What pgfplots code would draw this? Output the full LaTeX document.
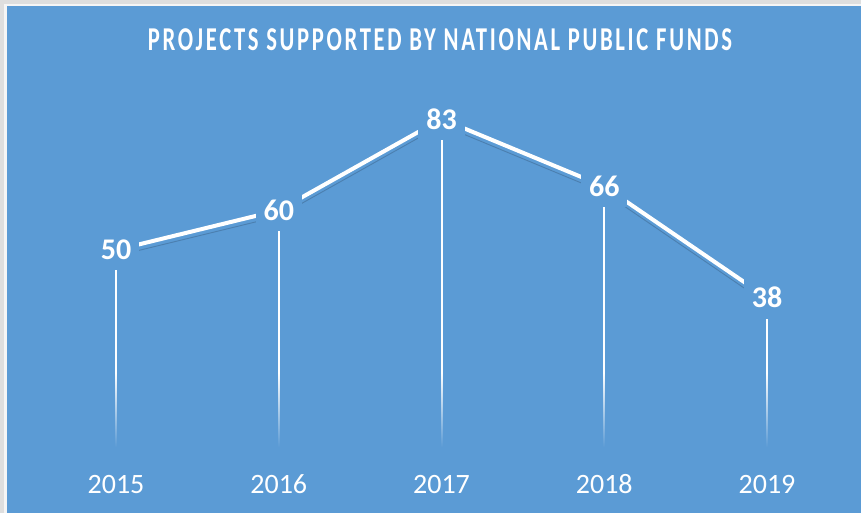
\documentclass[border=0pt]{standalone}
\usepackage{pgfplots}
\pgfplotsset{compat=1.18}
\usepackage{fontspec}
\setmainfont{Carlito}
\newfontfamily\titlefont[FakeStretch=0.68, LetterSpace=8]{Carlito}
\usetikzlibrary{fadings}
\definecolor{bg}{RGB}{91,155,213}
\definecolor{framegray}{RGB}{222,222,222}
\tikzfading[name=fadeup, top color=transparent!100, bottom color=transparent!0]
\begin{document}
\begin{tikzpicture}
\fill[framegray] (0,0) rectangle (645.75pt,384.75pt);
\fill[white!70!framegray] (3pt,0) rectangle (645.75pt,382pt);
\fill[bg] (5.25pt,0) rectangle (645.75pt,380.25pt);
\begin{axis}[
  at={(87pt,48.375pt)}, anchor=south west,
  scale only axis, width=488.25pt, height=297.75pt,
  xmin=0, xmax=4, ymin=0, ymax=100,
  axis line style={draw=none}, major tick length=0pt,
  ytick=\empty, xtick={0,1,2,3,4}, xticklabels={2015,2016,2017,2018,2019},
  xticklabel style={font=\fontsize{21}{25}\selectfont, text=white, anchor=base, yshift=-34.1pt},
  clip=false,
  /pgf/number format/assume math mode=true,
]
\addplot[ycomb, draw=white, line width=1.5pt, mark=none] coordinates {(0,50)(1,60)(2,83)(3,66)(4,38)};
\fill[bg, path fading=fadeup] (axis cs:-0.3,0.3) rectangle (axis cs:4.3,19);
\fill[bg] (axis cs:-0.3,-0.5) rectangle (axis cs:4.3,0.35);
\addplot[draw=bg!50!black, line width=0.7pt, opacity=0.35, yshift=-4.5pt, mark=none] coordinates {(0,50)(1,60)(2,83)(3,66)(4,38)};
\addplot[draw=white, line width=3pt, mark=none, nodes near coords,
  nodes near coords style={anchor=center, fill=bg, text=white, font=\fontsize{22.5}{27}\selectfont\bfseries, inner xsep=6pt, inner ysep=8pt, text depth=0pt}]
  coordinates {(0,50)(1,60)(2,83)(3,66)(4,38)};
\end{axis}
\node[anchor=base, text=white, font=\titlefont\bfseries\fontsize{25}{30}\selectfont] at (330pt,346.5pt) {PROJECTS SUPPORTED BY NATIONAL PUBLIC FUNDS};
\pgfresetboundingbox
\path (0,0) rectangle (645.75pt,384.75pt);
\end{tikzpicture}
\end{document}
